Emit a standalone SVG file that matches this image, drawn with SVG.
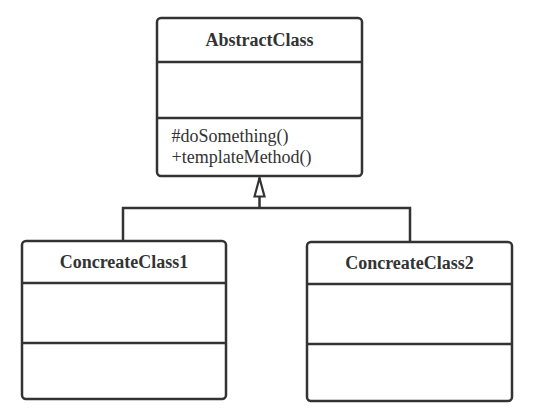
<svg xmlns="http://www.w3.org/2000/svg" width="541" height="418" viewBox="0 0 541 418">
<style>
.box{fill:#fff;stroke:#333;stroke-width:2.5}
.sep{stroke:#333;stroke-width:2.5}
.title{font-family:"Liberation Serif",serif;font-weight:bold;font-size:18px;fill:#333;text-anchor:middle}
.op{font-family:"Liberation Serif",serif;font-size:18px;fill:#333}
.edge{fill:none;stroke:#333;stroke-width:2.5}
</style>
<defs>
<marker id="tri" markerWidth="22" markerHeight="14" refX="20" refY="7" orient="auto" markerUnits="userSpaceOnUse" viewBox="0 0 22 14">
<path d="M1.5,2 L20,7 L1.5,12 Z" fill="#fff" stroke="#333" stroke-width="2.2" stroke-linejoin="miter"/>
</marker>
</defs>
<rect width="541" height="418" fill="#fff"/>
<g id="connectors">
<path class="edge" d="M123,241 V208 H410 V242"/>
<path class="edge" d="M259.5,208 V178" marker-end="url(#tri)"/>
</g>
<g id="AbstractClass">
<rect class="box" x="157" y="18" width="205" height="158" rx="4"/>
<line class="sep" x1="157" y1="62" x2="362" y2="62"/>
<line class="sep" x1="157" y1="118" x2="362" y2="118"/>
<text class="title" x="259.5" y="46">AbstractClass</text>
<text class="op" x="171.5" y="142">#doSomething()</text>
<text class="op" x="171.5" y="163">+templateMethod()</text>
</g>
<g id="ConcreteClass1">
<rect class="box" x="22" y="241" width="204" height="158" rx="4"/>
<line class="sep" x1="22" y1="283" x2="226" y2="283"/>
<line class="sep" x1="22" y1="343" x2="226" y2="343"/>
<text class="title" x="124" y="268">ConcreateClass1</text>
</g>
<g id="ConcreteClass2">
<rect class="box" x="307" y="242" width="205" height="159" rx="4"/>
<line class="sep" x1="307" y1="284" x2="512" y2="284"/>
<line class="sep" x1="307" y1="344" x2="512" y2="344"/>
<text class="title" x="409.5" y="269">ConcreateClass2</text>
</g>
</svg>
